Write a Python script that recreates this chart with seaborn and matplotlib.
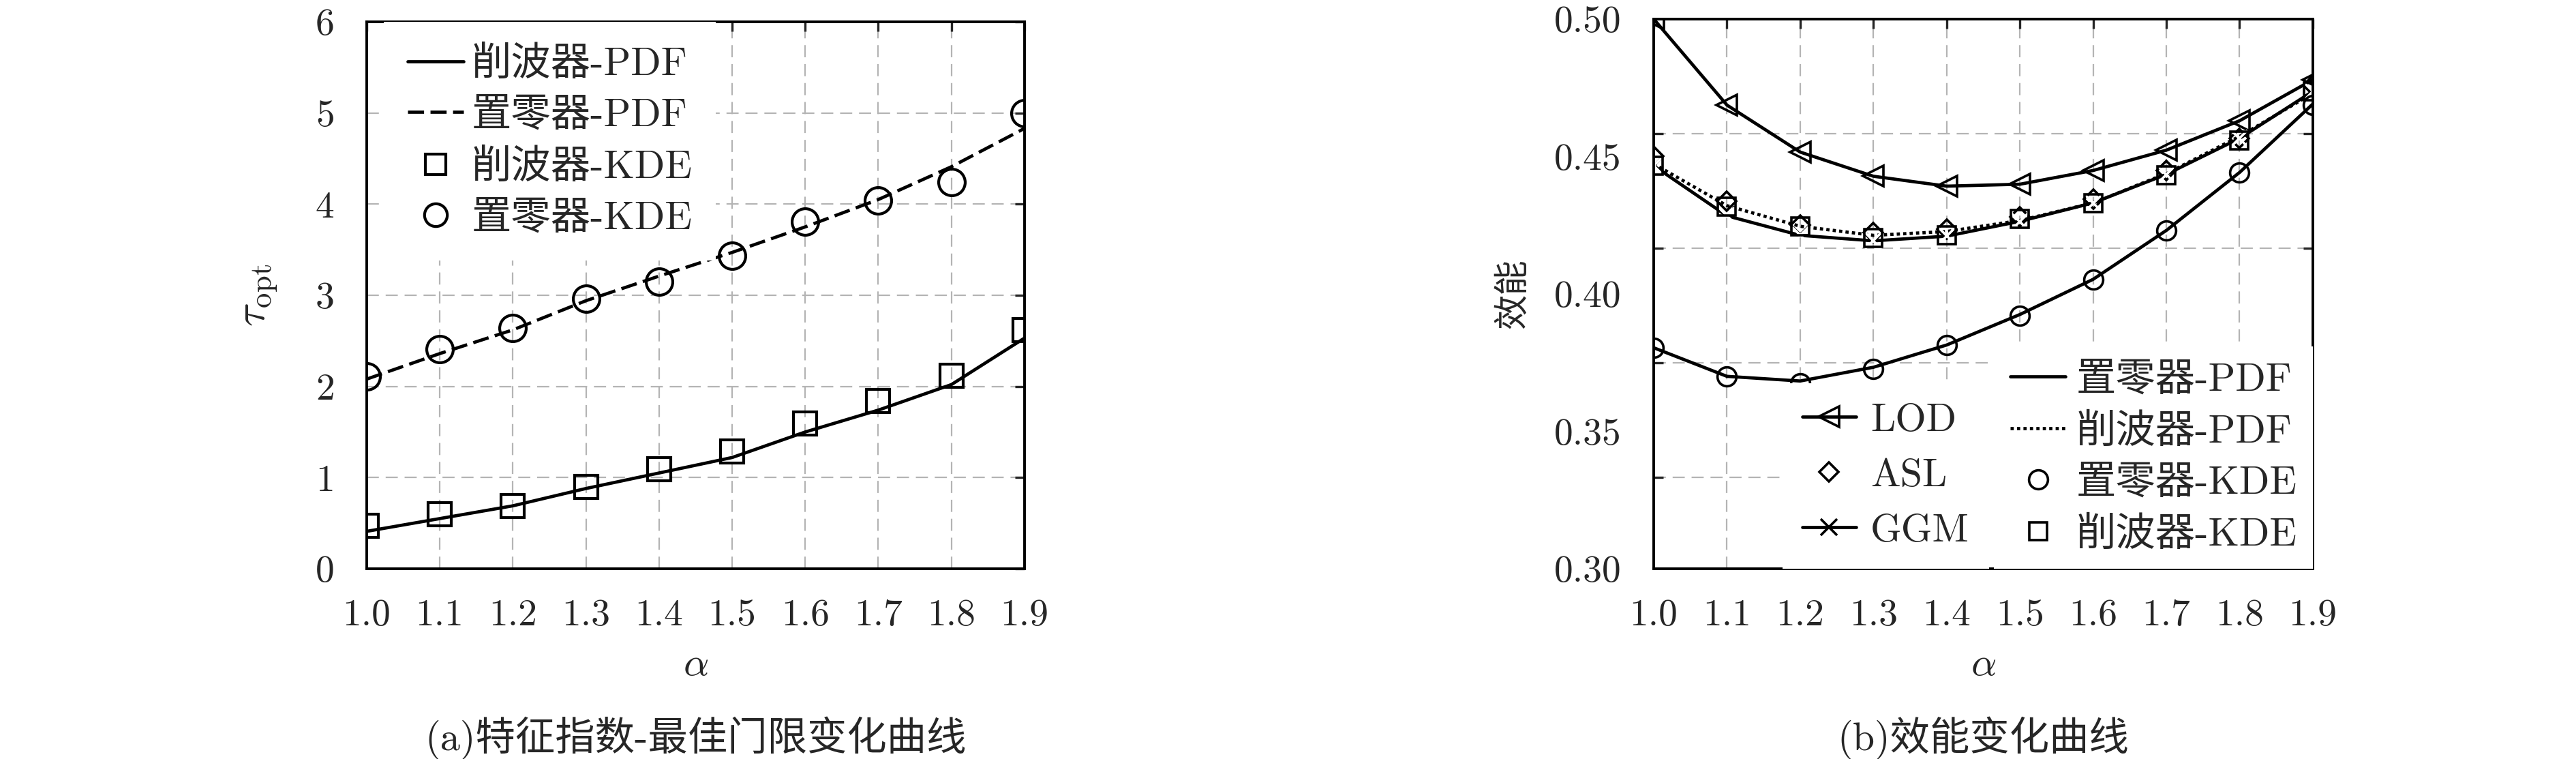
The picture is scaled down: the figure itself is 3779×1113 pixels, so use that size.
import matplotlib
matplotlib.use("Agg")
import matplotlib.pyplot as plt
from matplotlib.lines import Line2D
import numpy as np
import seaborn as sns

# alpha values shared by both panels
alpha = [1.0, 1.1, 1.2, 1.3, 1.4, 1.5, 1.6, 1.7, 1.8, 1.9]

# (a) optimal threshold
clip_pdf = [0.41, 0.55, 0.69, 0.88, 1.05, 1.22, 1.50, 1.74, 2.02, 2.53]
clip_kde = [0.47, 0.60, 0.69, 0.90, 1.09, 1.29, 1.59, 1.84, 2.12, 2.62]
zero_pdf = [2.08, 2.36, 2.62, 2.94, 3.21, 3.47, 3.75, 4.05, 4.41, 4.83]
zero_kde = [2.11, 2.41, 2.64, 2.96, 3.15, 3.43, 3.81, 4.04, 4.24, 5.00]

# (b) efficiency
lod = [0.5000, 0.4687, 0.4516, 0.4428, 0.4392, 0.4399, 0.4449, 0.4523, 0.4630, 0.4779]
asl = [0.4502, 0.4338, 0.4250, 0.4224, 0.4236, 0.4281, 0.4345, 0.4449, 0.4566, 0.4758]
ggm = [0.4466, 0.4284, 0.4213, 0.4193, 0.4210, 0.4264, 0.4331, 0.4435, 0.4566, 0.4737]
zero_pdf_b = [0.3804, 0.3700, 0.3683, 0.3733, 0.3814, 0.3925, 0.4053, 0.4231, 0.4442, 0.4691]
clip_pdf_b = [0.4473, 0.4321, 0.4246, 0.4213, 0.4227, 0.4267, 0.4331, 0.4438, 0.4573, 0.4730]
zero_kde_b = [0.3804, 0.3700, 0.3676, 0.3726, 0.3814, 0.3921, 0.4053, 0.4231, 0.4442, 0.4687]
clip_kde_b = [0.4466, 0.4317, 0.4246, 0.4203, 0.4213, 0.4274, 0.4331, 0.4431, 0.4559, 0.4737]

yticks_a = [0, 1, 2, 3, 4, 5, 6]
yticks_b = [0.30, 0.35, 0.40, 0.45, 0.50]
ytick_b_labels = ["0.30", "0.35", "0.40", "0.45", "0.50"]
ygrid_b = [1/3, 0.375, 5/12, 11/24]

sns.set_style("white")
plt.rcParams['font.family'] = ['cmr10', 'Noto Sans CJK SC']
plt.rcParams['mathtext.fontset'] = 'cm'
plt.rcParams['axes.formatter.use_mathtext'] = True
FS = 40      # tick labels
LFS = 42     # legends
CFS = 42     # captions

fig = plt.figure(figsize=(37.8, 11.13), dpi=100)
ax1 = fig.add_axes([0.1423, 0.2507, 0.2553, 0.7206])
ax2 = fig.add_axes([0.6418, 0.2507, 0.2558, 0.7242])

LW = 3.4
DASH = (0, (5, 2))
DOT = (0, (1, 1))
grid_kw = dict(color='#b4b4b4', linestyle=(0, (8, 4.5)), linewidth=1.6)
leg_kw = dict(fontsize=LFS, frameon=True, framealpha=1, edgecolor='none', fancybox=False)

# ---- panel (a)
sns.lineplot(x=alpha, y=clip_pdf, ax=ax1, color='k', lw=LW, legend=False)
sns.lineplot(x=alpha, y=zero_pdf, ax=ax1, color='k', lw=LW, linestyle=DASH, legend=False)
sns.lineplot(x=alpha, y=clip_kde, ax=ax1, color='k', linestyle='none', marker='s',
             ms=24, mfc='none', mec='k', mew=3, legend=False)
sns.lineplot(x=alpha, y=zero_kde, ax=ax1, color='k', linestyle='none', marker='o',
             ms=28, mfc='none', mec='k', mew=3, legend=False)
ax1.set_xlim(1.0, 1.9)
ax1.set_ylim(0, 6)
ax1.set_xticks(alpha)
ax1.set_xticklabels([f"{a:.1f}" for a in alpha])
ax1.set_yticks(yticks_a)
ax1.set_yticklabels([str(v) for v in yticks_a])
ax1.grid(True, **grid_kw)
ax1.set_xlabel(r"$\alpha$", fontsize=LFS, labelpad=16)
ax1.set_ylabel(r"$\tau_{\mathrm{opt}}$", fontsize=LFS + 4, labelpad=38)
h1 = [Line2D([], [], color='k', lw=LW),
      Line2D([], [], color='k', lw=LW, linestyle=DASH),
      Line2D([], [], color='k', linestyle='none', marker='s', ms=21, mfc='none', mew=3),
      Line2D([], [], color='k', linestyle='none', marker='o', ms=24, mfc='none', mew=3)]
ax1.legend(h1, ["削波器-PDF", "置零器-PDF", "削波器-KDE", "置零器-KDE"],
           loc='upper left', bbox_to_anchor=(0.026, 1.0), borderaxespad=0,
           handlelength=1.4, handletextpad=0.2, labelspacing=0.38, borderpad=0.6, **leg_kw)

# ---- panel (b)
sns.lineplot(x=alpha, y=lod, ax=ax2, color='k', lw=LW, marker='<', ms=22, mfc='none',
             mec='k', mew=2.6, legend=False)
sns.lineplot(x=alpha, y=asl, ax=ax2, color='k', linestyle='none', marker='D', ms=14,
             mfc='none', mec='k', mew=2.6, legend=False)
sns.lineplot(x=alpha, y=clip_pdf_b, ax=ax2, color='k', lw=LW, linestyle=DOT, legend=False)
sns.lineplot(x=alpha, y=ggm, ax=ax2, color='k', lw=LW, marker='x', ms=17, mew=2.6, legend=False)
sns.lineplot(x=alpha, y=clip_kde_b, ax=ax2, color='k', linestyle='none', marker='s', ms=19,
             mfc='none', mec='k', mew=2.6, legend=False)
sns.lineplot(x=alpha, y=zero_pdf_b, ax=ax2, color='k', lw=LW, legend=False)
sns.lineplot(x=alpha, y=zero_kde_b, ax=ax2, color='k', linestyle='none', marker='o', ms=20,
             mfc='none', mec='k', mew=2.6, legend=False)
ax2.set_xlim(1.0, 1.9)
ax2.set_ylim(0.30, 0.50)
ax2.set_xticks(alpha)
ax2.set_xticklabels([f"{a:.1f}" for a in alpha])
ax2.set_yticks(yticks_b)
ax2.set_yticklabels(ytick_b_labels)
ax2.set_yticks(ygrid_b, minor=True)
ax2.grid(True, axis='x', **grid_kw)
ax2.grid(True, axis='y', which='minor', **grid_kw)
ax2.set_xlabel(r"$\alpha$", fontsize=LFS, labelpad=16)
ax2.set_ylabel("效能", fontsize=37, labelpad=26)

hA = [Line2D([], [], color='k', lw=LW, marker='<', ms=22, mfc='none', mew=2.6),
      Line2D([], [], color='k', linestyle='none', marker='D', ms=14, mfc='none', mew=2.6),
      Line2D([], [], color='k', lw=LW, marker='x', ms=17, mew=2.6)]
legA = ax2.legend(hA, ["LOD", "ASL", "GGM"], loc='lower left', bbox_to_anchor=(0.195, 0.0),
                  borderaxespad=0, handlelength=1.36, handletextpad=0.36, labelspacing=0.5,
                  borderpad=0.5, **leg_kw)
ax2.add_artist(legA)
hB = [Line2D([], [], color='k', lw=LW),
      Line2D([], [], color='k', lw=LW, linestyle=DOT),
      Line2D([], [], color='k', linestyle='none', marker='o', ms=20, mfc='none', mew=2.6),
      Line2D([], [], color='k', linestyle='none', marker='s', ms=19, mfc='none', mew=2.6)]
ax2.legend(hB, ["置零器-PDF", "削波器-PDF", "置零器-KDE", "削波器-KDE"], loc='lower right',
           bbox_to_anchor=(1.0, 0.0), borderaxespad=0, handlelength=1.4, handletextpad=0.26,
           labelspacing=0.38, borderpad=0.4, **leg_kw)

for ax in (ax1, ax2):
    for s in ax.spines.values():
        s.set_linewidth(2.8)
        s.set_color('k')
    ax.tick_params(axis='both', which='major', direction='in', length=10, width=2.4,
                   top=True, right=True, labelsize=FS)
    ax.tick_params(axis='x', which='major', pad=32)
    ax.tick_params(axis='y', which='major', pad=34)
    ax.set_axisbelow(True)
ax2.tick_params(axis='y', which='major', length=0, pad=34)
ax2.tick_params(axis='y', which='minor', direction='in', length=10, width=2.4, left=True, right=True)

fig.text(0.2700, 0.012, "(a)特征指数-最佳门限变化曲线", ha='center', fontsize=CFS)
fig.text(0.7697, 0.012, "(b)效能变化曲线", ha='center', fontsize=CFS)

fig.savefig("out.png", dpi=100, facecolor='white')
